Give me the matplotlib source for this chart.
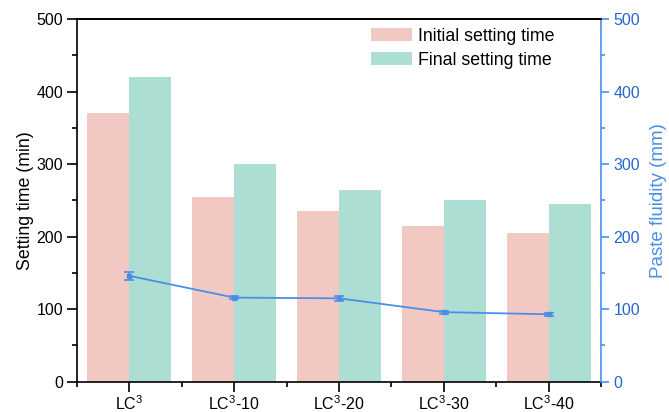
import numpy as np
import matplotlib.pyplot as plt
from matplotlib.ticker import MultipleLocator

plt.rcParams['font.family'] = ['Liberation Sans', 'DejaVu Sans']
plt.rcParams['mathtext.default'] = 'regular'

samples = ['LC$^3$', 'LC$^3$-10', 'LC$^3$-20', 'LC$^3$-30', 'LC$^3$-40']
initial_setting = [370, 255, 235, 215, 205]
final_setting = [420, 300, 265, 250, 245]
fluidity = [146, 116, 115, 96, 93]
fluidity_err = [6, 2, 3, 2, 2]

pink = '#F2C9C2'
green = '#ACDED4'
blue = '#4A8FE7'
blue_text = '#2466CC'

fig = plt.figure(figsize=(6.69, 4.12), dpi=100)
ax = fig.add_axes([0.1151, 0.0735, 0.7833, 0.8799])

x = np.arange(len(samples))
w = 0.4
ax.bar(x - w / 2, initial_setting, w, color=pink, label='Initial setting time')
ax.bar(x + w / 2, final_setting, w, color=green, label='Final setting time')

ax.set_xlim(-0.5, 4.5)
ax.set_ylim(0, 500)
ax.set_xticks(x)
ax.set_xticklabels(samples, fontsize=11.5)
ax.xaxis.set_minor_locator(MultipleLocator(0.5))
ax.yaxis.set_major_locator(MultipleLocator(100))
ax.yaxis.set_minor_locator(MultipleLocator(50))
ax.set_ylabel('Setting time (min)', fontsize=12.8, labelpad=2)
ax.tick_params(axis='both', which='major', direction='out', length=7, width=1.2,
               labelsize=11.5, pad=3)
ax.tick_params(axis='x', which='major', pad=2)
ax.tick_params(axis='both', which='minor', direction='out', length=3.5, width=1.2)
for s in ['left', 'bottom', 'top']:
    ax.spines[s].set_linewidth(1.2)
ax.spines['right'].set_visible(False)

ax.legend(loc='upper left', bbox_to_anchor=(0.561, 0.977), frameon=False,
          fontsize=12.8, handlelength=2.3, handleheight=0.8,
          handletextpad=0.33, labelspacing=0.4, borderaxespad=0, borderpad=0)

ax2 = ax.twinx()
ax2.set_ylim(0, 500)
ax2.errorbar(x, fluidity, yerr=fluidity_err, color=blue, linewidth=1.3,
             marker='s', markersize=3, capsize=3.3, capthick=1.2, elinewidth=1.2)
ax2.yaxis.set_major_locator(MultipleLocator(100))
ax2.yaxis.set_minor_locator(MultipleLocator(50))
ax2.set_ylabel('Paste fluidity (mm)', fontsize=13.5, color=blue, labelpad=7)
ax2.tick_params(axis='y', which='major', direction='out', length=6, width=1.2,
                colors=blue, labelcolor=blue_text, labelsize=11.5, pad=3)
ax2.tick_params(axis='y', which='minor', direction='out', length=3, width=1.2,
                colors=blue)
ax2.spines['right'].set_color(blue)
ax2.spines['right'].set_linewidth(1.2)
ax2.spines['top'].set_linewidth(1.2)
for s in ['left', 'bottom']:
    ax2.spines[s].set_visible(False)

fig.savefig('out.png', dpi=100)
